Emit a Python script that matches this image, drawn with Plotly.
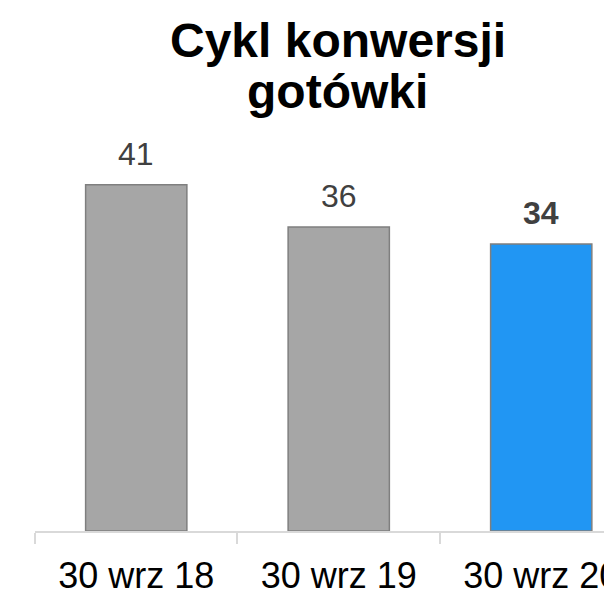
import plotly.graph_objects as go

# Dane wykresu
okresy = ['30 wrz 18', '30 wrz 19', '30 wrz 20']
dni = [41, 36, 34]
kolory = ['#A6A6A6', '#A6A6A6', '#2196F3']
etykiety = ['41', '36', '<b>34</b>']
tytul = ['Cykl konwersji', 'gotówki']

FONT = 'Liberation Sans, Arial, sans-serif'

fig = go.Figure()

fig.add_trace(go.Bar(
    x=okresy,
    y=dni,
    width=0.5,
    marker=dict(color=kolory, line=dict(color='#7F7F7F', width=1.5)),
    hoverinfo='x+y',
))

# Etykiety wartosci nad slupkami
for okres, wartosc, tekst in zip(okresy, dni, etykiety):
    fig.add_annotation(
        x=okres, y=wartosc, text=tekst,
        showarrow=False, yanchor='bottom', yshift=11,
        font=dict(family=FONT, size=32, color='#404040')
    )

# Tytul - dwie linie, ciasniejszy odstep niz domyslny
for linia, przesuniecie in zip(tytul, [90, 39]):
    fig.add_annotation(
        text='<b>' + linia + '</b>',
        xref='paper', yref='paper',
        x=(329.5 - 27) / 585, y=1.0, xanchor='center', yanchor='middle',
        yshift=przesuniecie, showarrow=False,
        font=dict(family=FONT, size=48, color='black')
    )

fig.update_layout(
    width=612,
    height=591,
    margin=dict(l=27, r=0, t=122, b=68, autoexpand=False),
    paper_bgcolor='white',
    plot_bgcolor='white',
    showlegend=False,
    xaxis=dict(
        range=[-0.5, 2.389],
        automargin=False,
        showline=True, linecolor='#D9D9D9', linewidth=1.5,
        ticks='outside', tickson='boundaries', ticklen=11,
        tickcolor='#D9D9D9', tickwidth=1.5,
        ticklabelstandoff=12,
        tickfont=dict(family=FONT, size=36, color='black'),
        showgrid=False, zeroline=False,
    ),
    yaxis=dict(
        range=[0, 47.5],
        automargin=False,
        visible=False,
    ),
)

fig.write_html("out.html")
